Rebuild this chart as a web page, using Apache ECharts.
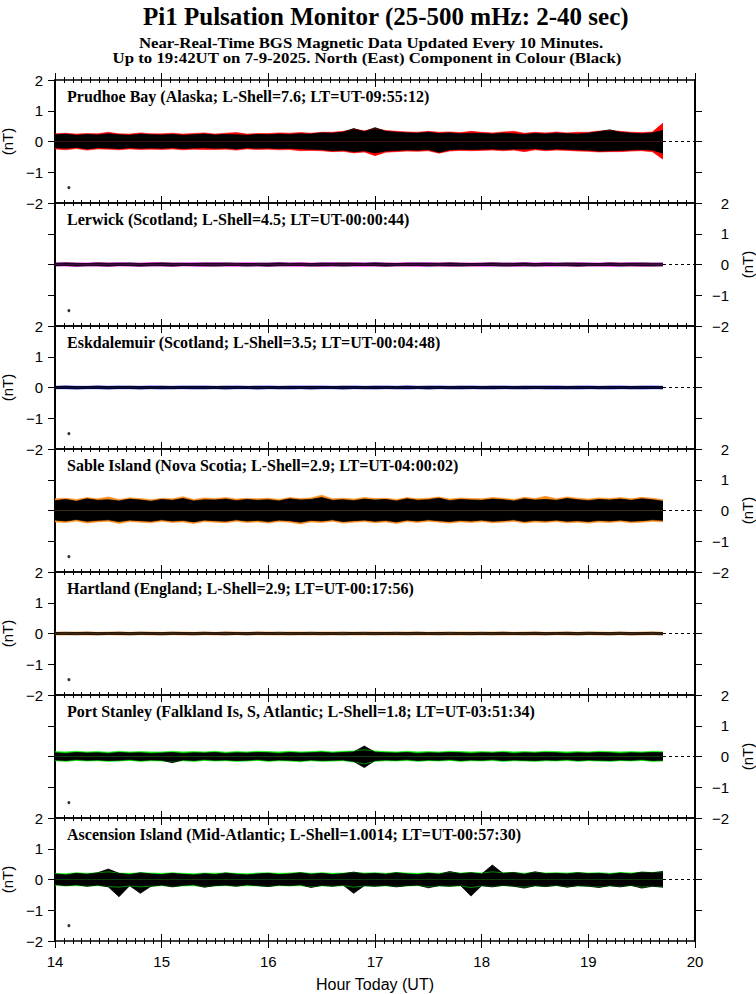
<!DOCTYPE html>
<html><head><meta charset="utf-8">
<script src="https://cdn.jsdelivr.net/npm/echarts@6/dist/echarts.min.js"></script>
<style>html,body{margin:0;padding:0;background:#fff}#c{width:756px;height:994px}</style>
</head><body><div id="c"></div>
<script>
// ---------- DATA ----------
const mainTitle = 'Pi1 Pulsation Monitor (25-500 mHz: 2-40 sec)';
const subLine1 = 'Near-Real-Time BGS Magnetic Data Updated Every 10 Minutes.';
const subLine2 = 'Up to 19:42UT on 7-9-2025. North (East) Component in Colour (Black)';
const xAxisName = 'Hour Today (UT)';
const yAxisName = '(nT)';
const xTicks = [14, 15, 16, 17, 18, 19, 20];
const yTicks = [-2, -1, 0, 1, 2];
const yInnerTicks = [-1, 0, 1];
const markerDot = [14.13, -1.5];

const hours = [14.0,14.1,14.2,14.3,14.4,14.5,14.6,14.7,14.8,14.9,
  15.0,15.1,15.2,15.3,15.4,15.5,15.6,15.7,15.8,15.9,
  16.0,16.1,16.2,16.3,16.4,16.5,16.6,16.7,16.8,16.9,
  17.0,17.1,17.2,17.3,17.4,17.5,17.6,17.7,17.8,17.9,
  18.0,18.1,18.2,18.3,18.4,18.5,18.6,18.7,18.8,18.9,
  19.0,19.1,19.2,19.3,19.4,19.5,19.6,19.7];

const stationNames = [
  'Prudhoe Bay (Alaska; L-Shell=7.6; LT=UT-09:55:12)',
  'Lerwick (Scotland; L-Shell=4.5; LT=UT-00:00:44)',
  'Eskdalemuir (Scotland; L-Shell=3.5; LT=UT-00:04:48)',
  'Sable Island (Nova Scotia; L-Shell=2.9; LT=UT-04:00:02)',
  'Hartland (England; L-Shell=2.9; LT=UT-00:17:56)',
  'Port Stanley (Falkland Is, S, Atlantic; L-Shell=1.8; LT=UT-03:51:34)',
  'Ascension Island (Mid-Atlantic; L-Shell=1.0014; LT=UT-00:57:30)'
];
const stationColours = ['#ff0000', '#ff00ff', '#0000ff', '#ff8c1a', '#ff8c1a', '#00ee00', '#00ee00'];

// Prudhoe Bay
const prudhoeNorthHi = [0.25,0.27,0.24,0.26,0.25,0.3,0.25,0.24,0.28,0.25, 0.25,0.27,0.24,0.26,0.28,0.24,0.27,0.29,0.24,0.26, 0.26,0.28,0.27,0.29,0.27,0.3,0.3,0.33,0.4,0.35, 0.42,0.36,0.33,0.31,0.3,0.33,0.3,0.31,0.29,0.33, 0.3,0.28,0.31,0.33,0.27,0.3,0.28,0.31,0.28,0.3, 0.3,0.34,0.36,0.33,0.3,0.29,0.31,0.6];
const prudhoeNorthLo = [-0.24,-0.27,-0.23,-0.28,-0.24,-0.25,-0.27,-0.24,-0.26,-0.25, -0.26,-0.24,-0.27,-0.25,-0.26,-0.26,-0.25,-0.28,-0.24,-0.26, -0.25,-0.27,-0.26,-0.3,-0.29,-0.3,-0.33,-0.32,-0.37,-0.34, -0.46,-0.35,-0.33,-0.31,-0.32,-0.3,-0.38,-0.31,-0.29,-0.3, -0.29,-0.28,-0.3,-0.28,-0.33,-0.27,-0.3,-0.28,-0.29,-0.31, -0.32,-0.34,-0.33,-0.33,-0.31,-0.3,-0.33,-0.58];
const prudhoeEastHi = [0.22,0.24,0.2,0.23,0.21,0.25,0.22,0.2,0.24,0.22, 0.21,0.23,0.2,0.22,0.24,0.21,0.23,0.22,0.2,0.23, 0.22,0.24,0.23,0.25,0.24,0.28,0.27,0.3,0.42,0.32, 0.45,0.33,0.3,0.28,0.27,0.3,0.26,0.28,0.25,0.27, 0.26,0.24,0.27,0.25,0.23,0.26,0.24,0.27,0.25,0.24, 0.27,0.32,0.38,0.3,0.27,0.25,0.28,0.36];
const prudhoeEastLo = [-0.2,-0.22,-0.19,-0.24,-0.2,-0.21,-0.23,-0.2,-0.22,-0.21, -0.22,-0.2,-0.23,-0.21,-0.2,-0.22,-0.21,-0.24,-0.2,-0.22, -0.21,-0.23,-0.22,-0.24,-0.25,-0.26,-0.3,-0.28,-0.33,-0.3, -0.37,-0.31,-0.29,-0.27,-0.28,-0.26,-0.35,-0.27,-0.25,-0.26, -0.25,-0.24,-0.26,-0.24,-0.25,-0.23,-0.26,-0.24,-0.25,-0.27, -0.28,-0.31,-0.3,-0.29,-0.27,-0.26,-0.28,-0.38];

// Lerwick
const lerwickNorthHi = [0.05,0.06,0.05,0.05,0.06,0.05,0.06,0.05,0.05,0.06, 0.06,0.05,0.05,0.06,0.05,0.06,0.05,0.05,0.06,0.05, 0.05,0.06,0.05,0.06,0.05,0.05,0.06,0.05,0.06,0.05, 0.06,0.05,0.05,0.06,0.05,0.06,0.05,0.06,0.05,0.05, 0.05,0.06,0.05,0.05,0.06,0.05,0.06,0.05,0.05,0.06, 0.05,0.05,0.06,0.05,0.06,0.05,0.05,0.05];
const lerwickNorthLo = [-0.05,-0.05,-0.06,-0.05,-0.05,-0.06,-0.05,-0.05,-0.06,-0.05, -0.05,-0.06,-0.05,-0.05,-0.06,-0.05,-0.05,-0.06,-0.05,-0.05, -0.06,-0.05,-0.05,-0.06,-0.05,-0.06,-0.05,-0.05,-0.05,-0.06, -0.05,-0.06,-0.05,-0.05,-0.06,-0.05,-0.05,-0.06,-0.05,-0.05, -0.06,-0.05,-0.05,-0.06,-0.05,-0.05,-0.06,-0.05,-0.05,-0.06, -0.05,-0.05,-0.06,-0.05,-0.05,-0.06,-0.05,-0.05];
const lerwickEastHi = [0.04,0.05,0.04,0.03,0.05,0.04,0.04,0.05,0.03,0.04, 0.05,0.04,0.04,0.03,0.05,0.04,0.05,0.04,0.03,0.04, 0.04,0.05,0.04,0.04,0.03,0.05,0.04,0.05,0.04,0.04, 0.05,0.04,0.03,0.04,0.05,0.04,0.04,0.05,0.04,0.03, 0.04,0.05,0.04,0.04,0.05,0.03,0.04,0.04,0.05,0.04, 0.04,0.03,0.05,0.04,0.04,0.05,0.04,0.04];
const lerwickEastLo = [-0.04,-0.03,-0.05,-0.04,-0.04,-0.05,-0.03,-0.04,-0.05,-0.04, -0.04,-0.05,-0.03,-0.04,-0.04,-0.05,-0.04,-0.03,-0.05,-0.04, -0.05,-0.04,-0.04,-0.03,-0.05,-0.04,-0.04,-0.05,-0.04,-0.03, -0.04,-0.05,-0.04,-0.04,-0.03,-0.05,-0.04,-0.04,-0.05,-0.04, -0.03,-0.04,-0.05,-0.04,-0.04,-0.05,-0.03,-0.04,-0.04,-0.05, -0.04,-0.04,-0.03,-0.05,-0.04,-0.04,-0.05,-0.04];

// Eskdalemuir
const eskNorthHi = [0.04,0.05,0.04,0.04,0.05,0.04,0.05,0.04,0.04,0.05, 0.04,0.04,0.05,0.04,0.05,0.04,0.04,0.05,0.04,0.04, 0.05,0.04,0.04,0.05,0.04,0.05,0.04,0.04,0.05,0.04, 0.04,0.05,0.04,0.05,0.04,0.04,0.05,0.04,0.04,0.05, 0.04,0.04,0.05,0.04,0.04,0.05,0.04,0.05,0.04,0.04, 0.05,0.04,0.04,0.05,0.04,0.04,0.05,0.04];
const eskNorthLo = [-0.04,-0.04,-0.05,-0.04,-0.04,-0.05,-0.04,-0.04,-0.05,-0.04, -0.05,-0.04,-0.04,-0.05,-0.04,-0.04,-0.05,-0.04,-0.04,-0.05, -0.04,-0.04,-0.05,-0.04,-0.05,-0.04,-0.04,-0.05,-0.04,-0.04, -0.05,-0.04,-0.04,-0.05,-0.04,-0.05,-0.04,-0.04,-0.05,-0.04, -0.04,-0.05,-0.04,-0.04,-0.05,-0.04,-0.04,-0.05,-0.04,-0.05, -0.04,-0.04,-0.05,-0.04,-0.04,-0.05,-0.04,-0.04];
const eskEastHi = [0.03,0.04,0.03,0.03,0.04,0.03,0.03,0.04,0.03,0.03, 0.04,0.03,0.03,0.04,0.03,0.03,0.04,0.03,0.03,0.04, 0.03,0.03,0.04,0.03,0.04,0.03,0.03,0.04,0.03,0.03, 0.04,0.03,0.03,0.04,0.03,0.04,0.03,0.03,0.04,0.03, 0.03,0.04,0.03,0.03,0.04,0.03,0.04,0.03,0.03,0.04, 0.03,0.03,0.04,0.03,0.03,0.04,0.03,0.03];
const eskEastLo = [-0.03,-0.03,-0.04,-0.03,-0.03,-0.04,-0.03,-0.03,-0.04,-0.03, -0.03,-0.04,-0.03,-0.03,-0.04,-0.03,-0.04,-0.03,-0.03,-0.04, -0.03,-0.04,-0.03,-0.03,-0.04,-0.03,-0.03,-0.04,-0.03,-0.04, -0.03,-0.03,-0.04,-0.03,-0.03,-0.04,-0.03,-0.04,-0.03,-0.03, -0.04,-0.03,-0.03,-0.04,-0.03,-0.03,-0.04,-0.03,-0.04,-0.03, -0.03,-0.04,-0.03,-0.03,-0.04,-0.03,-0.03,-0.04];

// Sable Island
const sableNorthHi = [0.38,0.4,0.36,0.42,0.38,0.44,0.36,0.41,0.39,0.35, 0.4,0.38,0.45,0.36,0.41,0.39,0.42,0.37,0.4,0.38, 0.4,0.36,0.42,0.39,0.41,0.5,0.38,0.4,0.37,0.42, 0.39,0.4,0.36,0.42,0.38,0.4,0.44,0.37,0.41,0.39, 0.38,0.42,0.4,0.36,0.43,0.39,0.46,0.38,0.44,0.4, 0.37,0.41,0.39,0.42,0.38,0.43,0.4,0.35];
const sableNorthLo = [-0.37,-0.39,-0.34,-0.41,-0.37,-0.35,-0.42,-0.36,-0.38,-0.4, -0.35,-0.39,-0.37,-0.42,-0.36,-0.38,-0.4,-0.35,-0.39,-0.37, -0.41,-0.36,-0.38,-0.44,-0.37,-0.39,-0.35,-0.41,-0.38,-0.36, -0.4,-0.37,-0.42,-0.36,-0.39,-0.35,-0.38,-0.41,-0.37,-0.39, -0.36,-0.4,-0.38,-0.35,-0.41,-0.37,-0.39,-0.36,-0.4,-0.38, -0.41,-0.37,-0.39,-0.36,-0.4,-0.38,-0.35,-0.37];
const sableEastHi = [0.32,0.36,0.3,0.38,0.33,0.35,0.31,0.37,0.34,0.3, 0.36,0.33,0.39,0.31,0.35,0.34,0.37,0.32,0.36,0.33, 0.35,0.31,0.38,0.34,0.36,0.42,0.33,0.35,0.32,0.37, 0.34,0.36,0.31,0.38,0.33,0.35,0.4,0.32,0.36,0.34, 0.33,0.37,0.35,0.31,0.38,0.34,0.36,0.33,0.39,0.35, 0.32,0.36,0.34,0.37,0.33,0.38,0.35,0.3];
const sableEastLo = [-0.31,-0.34,-0.29,-0.35,-0.32,-0.3,-0.36,-0.31,-0.33,-0.35, -0.3,-0.34,-0.32,-0.37,-0.31,-0.33,-0.35,-0.3,-0.34,-0.32, -0.36,-0.31,-0.33,-0.38,-0.32,-0.34,-0.3,-0.36,-0.33,-0.31, -0.35,-0.32,-0.37,-0.31,-0.34,-0.3,-0.33,-0.36,-0.32,-0.34, -0.31,-0.35,-0.33,-0.3,-0.36,-0.32,-0.34,-0.31,-0.35,-0.33, -0.36,-0.32,-0.34,-0.31,-0.35,-0.33,-0.3,-0.32];

// Hartland
const hartNorthHi = [0.05,0.04,0.05,0.05,0.04,0.05,0.05,0.04,0.05,0.05, 0.04,0.05,0.05,0.04,0.05,0.04,0.05,0.05,0.04,0.05, 0.05,0.04,0.05,0.05,0.04,0.05,0.05,0.04,0.05,0.04, 0.05,0.05,0.04,0.05,0.05,0.04,0.05,0.04,0.05,0.05, 0.04,0.05,0.05,0.04,0.05,0.05,0.04,0.05,0.05,0.04, 0.05,0.05,0.04,0.05,0.04,0.05,0.05,0.04];
const hartNorthLo = [-0.05,-0.05,-0.04,-0.05,-0.05,-0.04,-0.05,-0.05,-0.04,-0.05, -0.05,-0.04,-0.05,-0.05,-0.04,-0.05,-0.05,-0.04,-0.05,-0.04, -0.05,-0.05,-0.04,-0.05,-0.05,-0.04,-0.05,-0.04,-0.05,-0.05, -0.04,-0.05,-0.05,-0.04,-0.05,-0.05,-0.04,-0.05,-0.05,-0.04, -0.05,-0.04,-0.05,-0.05,-0.04,-0.05,-0.05,-0.04,-0.05,-0.05, -0.04,-0.05,-0.05,-0.04,-0.05,-0.05,-0.04,-0.05];
const hartEastHi = [0.03,0.04,0.03,0.04,0.03,0.03,0.04,0.03,0.04,0.03, 0.03,0.04,0.03,0.03,0.04,0.03,0.04,0.03,0.03,0.04, 0.03,0.04,0.03,0.03,0.04,0.03,0.03,0.04,0.03,0.04, 0.03,0.03,0.04,0.03,0.04,0.03,0.03,0.04,0.03,0.03, 0.04,0.03,0.04,0.03,0.03,0.04,0.03,0.03,0.04,0.03, 0.04,0.03,0.03,0.04,0.03,0.03,0.04,0.03];
const hartEastLo = [-0.03,-0.03,-0.04,-0.03,-0.04,-0.03,-0.03,-0.04,-0.03,-0.03, -0.04,-0.03,-0.03,-0.04,-0.03,-0.03,-0.04,-0.03,-0.04,-0.03, -0.03,-0.03,-0.04,-0.03,-0.03,-0.04,-0.03,-0.04,-0.03,-0.03, -0.04,-0.03,-0.03,-0.04,-0.03,-0.03,-0.04,-0.03,-0.03,-0.04, -0.03,-0.04,-0.03,-0.03,-0.04,-0.03,-0.04,-0.03,-0.03,-0.04, -0.03,-0.03,-0.04,-0.03,-0.04,-0.03,-0.03,-0.04];

// Port Stanley
const stanleyNorthHi = [0.16,0.15,0.17,0.15,0.16,0.14,0.17,0.15,0.16,0.15, 0.15,0.17,0.15,0.16,0.15,0.17,0.14,0.16,0.15,0.17, 0.16,0.15,0.17,0.15,0.16,0.18,0.15,0.17,0.18,0.22, 0.18,0.16,0.15,0.17,0.15,0.16,0.15,0.17,0.16,0.15, 0.16,0.15,0.17,0.15,0.16,0.15,0.17,0.16,0.15,0.16, 0.15,0.17,0.16,0.15,0.16,0.15,0.17,0.16];
const stanleyNorthLo = [-0.14,-0.16,-0.13,-0.15,-0.14,-0.16,-0.15,-0.13,-0.16,-0.14, -0.15,-0.18,-0.14,-0.16,-0.13,-0.15,-0.14,-0.16,-0.15,-0.13, -0.16,-0.14,-0.15,-0.17,-0.14,-0.16,-0.15,-0.14,-0.18,-0.24, -0.16,-0.14,-0.15,-0.13,-0.16,-0.14,-0.15,-0.13,-0.16,-0.14, -0.15,-0.13,-0.16,-0.14,-0.15,-0.16,-0.14,-0.15,-0.13,-0.16, -0.14,-0.15,-0.16,-0.14,-0.15,-0.13,-0.16,-0.15];
const stanleyEastHi = [0.12,0.1,0.13,0.11,0.12,0.1,0.13,0.11,0.12,0.1, 0.11,0.13,0.1,0.12,0.11,0.13,0.1,0.12,0.11,0.13, 0.12,0.1,0.13,0.11,0.12,0.14,0.11,0.13,0.15,0.34, 0.14,0.12,0.11,0.13,0.1,0.12,0.11,0.13,0.12,0.1, 0.12,0.11,0.13,0.1,0.12,0.11,0.13,0.12,0.1,0.12, 0.11,0.13,0.12,0.1,0.12,0.11,0.13,0.12];
const stanleyEastLo = [-0.11,-0.13,-0.1,-0.12,-0.11,-0.13,-0.12,-0.1,-0.13,-0.11, -0.12,-0.2,-0.11,-0.13,-0.1,-0.12,-0.11,-0.13,-0.12,-0.1, -0.13,-0.11,-0.12,-0.14,-0.11,-0.13,-0.12,-0.11,-0.16,-0.36, -0.13,-0.11,-0.12,-0.1,-0.13,-0.11,-0.12,-0.1,-0.13,-0.11, -0.12,-0.1,-0.13,-0.11,-0.12,-0.13,-0.11,-0.12,-0.1,-0.13, -0.11,-0.12,-0.13,-0.11,-0.12,-0.1,-0.13,-0.12];

// Ascension Island
const ascNorthHi = [0.2,0.19,0.22,0.2,0.22,0.25,0.21,0.2,0.22,0.21, 0.2,0.22,0.2,0.19,0.21,0.2,0.22,0.2,0.19,0.21, 0.22,0.2,0.21,0.23,0.2,0.22,0.2,0.21,0.23,0.21, 0.22,0.2,0.23,0.21,0.2,0.22,0.2,0.24,0.21,0.23, 0.21,0.25,0.22,0.23,0.2,0.24,0.21,0.22,0.21,0.23, 0.21,0.22,0.2,0.23,0.21,0.24,0.23,0.25];
const ascNorthLo = [-0.19,-0.21,-0.2,-0.22,-0.2,-0.23,-0.25,-0.21,-0.24,-0.22, -0.2,-0.23,-0.21,-0.2,-0.24,-0.21,-0.2,-0.22,-0.2,-0.21, -0.23,-0.2,-0.21,-0.2,-0.24,-0.21,-0.22,-0.2,-0.25,-0.21, -0.22,-0.21,-0.23,-0.21,-0.2,-0.24,-0.21,-0.22,-0.21,-0.26, -0.21,-0.23,-0.2,-0.22,-0.25,-0.21,-0.23,-0.2,-0.24,-0.21, -0.22,-0.24,-0.21,-0.23,-0.2,-0.25,-0.22,-0.24];
const ascEastHi = [0.18,0.15,0.2,0.17,0.22,0.34,0.2,0.16,0.22,0.18, 0.16,0.2,0.17,0.15,0.19,0.16,0.21,0.17,0.15,0.18, 0.2,0.16,0.18,0.22,0.17,0.2,0.16,0.19,0.24,0.18, 0.2,0.17,0.22,0.18,0.16,0.2,0.17,0.26,0.19,0.22, 0.18,0.47,0.2,0.23,0.17,0.25,0.19,0.2,0.18,0.22, 0.19,0.2,0.17,0.21,0.18,0.24,0.22,0.26];
const ascEastLo = [-0.16,-0.2,-0.17,-0.22,-0.18,-0.24,-0.56,-0.2,-0.45,-0.22, -0.18,-0.24,-0.19,-0.17,-0.25,-0.2,-0.18,-0.22,-0.17,-0.2, -0.23,-0.18,-0.2,-0.17,-0.26,-0.19,-0.22,-0.18,-0.45,-0.2, -0.22,-0.19,-0.24,-0.2,-0.18,-0.27,-0.2,-0.22,-0.19,-0.54, -0.2,-0.24,-0.19,-0.22,-0.28,-0.2,-0.23,-0.19,-0.25,-0.2, -0.22,-0.26,-0.2,-0.24,-0.19,-0.28,-0.22,-0.25];

const northHi = [prudhoeNorthHi, lerwickNorthHi, eskNorthHi, sableNorthHi, hartNorthHi, stanleyNorthHi, ascNorthHi];
const northLo = [prudhoeNorthLo, lerwickNorthLo, eskNorthLo, sableNorthLo, hartNorthLo, stanleyNorthLo, ascNorthLo];
const eastHi = [prudhoeEastHi, lerwickEastHi, eskEastHi, sableEastHi, hartEastHi, stanleyEastHi, ascEastHi];
const eastLo = [prudhoeEastLo, lerwickEastLo, eskEastLo, sableEastLo, hartEastLo, stanleyEastLo, ascEastLo];

// ---------- LAYOUT ----------
const PANEL_TOP = 80, PANEL_H = 123, LEFT = 55, RIGHT = 61;
const SERIF = 'Liberation Serif, Times New Roman, serif';
const SANS = 'Liberation Sans, Arial, Helvetica, sans-serif';
const N = stationNames.length;
const xMin = xTicks[0], xMax = xTicks[xTicks.length - 1];
const yMin = yTicks[0], yMax = yTicks[yTicks.length - 1];
const fmtY = v => (v < 0 ? '\u2212' + (-v) : String(v));

const grids = [], xAxes = [], yAxes = [], series = [], titles = [];

titles.push({text: mainTitle, left: 143, top: 4, padding: 0,
  textStyle: {fontFamily: SERIF, fontWeight: 'bold', fontSize: 25, color: '#000'}});

const graphics = [
  {type: 'text', x: 371, y: 43, scaleX: 1.12, silent: true,
   style: {text: subLine1, font: 'bold 15px "Liberation Serif", serif', fill: '#000',
           textAlign: 'center', textVerticalAlign: 'middle'}},
  {type: 'text', x: 367, y: 58, scaleX: 1.12, silent: true,
   style: {text: subLine2, font: 'bold 15px "Liberation Serif", serif', fill: '#000',
           textAlign: 'center', textVerticalAlign: 'middle'}}
];

function xAxisBase(gridIndex, position) {
  return {
    type: 'value', gridIndex, position, min: xMin, max: xMax, interval: 1,
    splitLine: {show: false},
    axisLine: {show: true, onZero: false, lineStyle: {color: '#000', width: 1.5}},
    axisTick: {show: true, inside: true, length: 7, lineStyle: {color: '#000', width: 1}},
    minorTick: {show: true, splitNumber: 12, length: 3, lineStyle: {color: '#000', width: 1}},
    axisLabel: {show: false}
  };
}

for (let i = 0; i < N; i++) {
  const top = PANEL_TOP + PANEL_H * i;
  grids.push({left: LEFT, right: RIGHT, top, height: PANEL_H, outerBoundsMode: 'none', containLabel: false});
  const xb = xAxisBase(i, 'bottom');
  if (i === N - 1) {
    xb.axisLabel = {show: true, margin: 13, fontFamily: SANS, fontSize: 15, color: '#000'};
    xb.name = xAxisName;
    xb.nameLocation = 'middle';
    xb.nameGap = 35;
    xb.nameTextStyle = {fontFamily: SANS, fontSize: 16, color: '#000'};
  }
  xAxes.push(xb);
  xAxes.push(xAxisBase(i, 'top'));

  const labelLeft = (i % 2 === 0);
  ['left', 'right'].forEach(pos => {
    const isLabelSide = (pos === 'left') === labelLeft;
    const ax = {
      type: 'value', gridIndex: i, position: pos, min: yMin, max: yMax, interval: 1,
      splitLine: {show: false},
      axisLine: {show: true, onZero: false, lineStyle: {color: '#000', width: 2}},
      axisTick: {show: true, inside: false, length: 7, lineStyle: {color: '#000', width: 1}},
      axisLabel: {show: false}
    };
    if (isLabelSide) {
      ax.axisLabel = {show: true, formatter: fmtY, fontFamily: SANS, fontSize: 15, color: '#000',
        margin: pos === 'left' ? 12 : 34, align: 'right'};
      ax.name = yAxisName;
      ax.nameLocation = 'middle';
      ax.nameRotate = 90;
      ax.nameGap = pos === 'left' ? 37 : 41;
      ax.nameTextStyle = {fontFamily: SANS, fontSize: 15, color: '#000'};
    } else {
      ax.axisTick.customValues = yInnerTicks;
    }
    yAxes.push(ax);
  });

  titles.push({text: stationNames[i], left: 67, top: top + 8, padding: 0,
    textStyle: {fontFamily: SERIF, fontWeight: 'bold', fontSize: 16, color: '#000'}});

  const xi = 2 * i, yi = 2 * i;
  // each envelope side is an area filled from the zero line to the value
  const side = (vals, color, w) => ({
    type: 'line', xAxisIndex: xi, yAxisIndex: yi, symbol: 'none', silent: true,
    data: hours.map((h, k) => [h, vals[k]]),
    lineStyle: {width: w, color}, areaStyle: {color, opacity: 1}
  });
  series.push(side(northHi[i], stationColours[i], 0.6), side(northLo[i], stationColours[i], 0.6));
  series.push(side(eastHi[i], '#000', 0.8), side(eastLo[i], '#000', 0.8));
  series.push({type: 'line', xAxisIndex: xi, yAxisIndex: yi, symbol: 'none', silent: true,
    data: [[hours[hours.length - 1], 0], [xMax, 0]],
    lineStyle: {color: '#000', width: 1, type: [3, 3]}});
  series.push({type: 'scatter', xAxisIndex: xi, yAxisIndex: yi, silent: true,
    data: [markerDot], symbolSize: 3, itemStyle: {color: '#000'}});
}

// extra grids for outward tick halves at top and bottom edges
const gTop = grids.length;
grids.push({left: LEFT, right: RIGHT, top: PANEL_TOP - 7, height: 7, outerBoundsMode: 'none'});
const xt = xAxisBase(gTop, 'bottom'); xt.axisLine.show = false; xAxes.push(xt);
yAxes.push({type: 'value', gridIndex: gTop, show: false});
const gBot = grids.length;
grids.push({left: LEFT, right: RIGHT, top: PANEL_TOP + PANEL_H * N, height: 7, outerBoundsMode: 'none'});
const xbt = xAxisBase(gBot, 'top'); xbt.axisLine.show = false; xAxes.push(xbt);
yAxes.push({type: 'value', gridIndex: gBot, show: false});

const chart = echarts.init(document.getElementById('c'), null, {renderer: 'svg'});
chart.setOption({
  animation: false,
  backgroundColor: '#fff',
  title: titles,
  graphic: graphics,
  grid: grids,
  xAxis: xAxes,
  yAxis: yAxes,
  series
});
</script></body></html>
